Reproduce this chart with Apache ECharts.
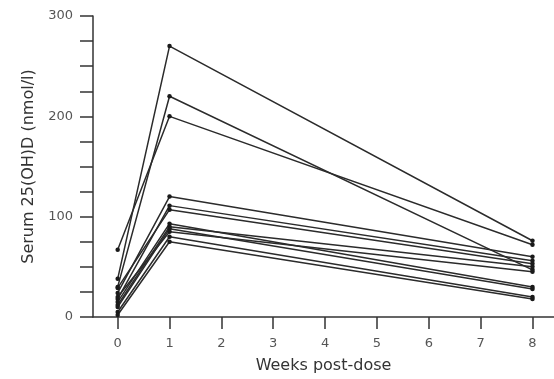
<!DOCTYPE html>
<html><head><meta charset="utf-8">
<script src="https://cdn.jsdelivr.net/npm/echarts@6/dist/echarts.min.js"></script>
<style>html,body{margin:0;padding:0;background:#fff}#c{width:554px;height:379px}</style>
</head><body><div id="c"></div>
<script>
var weeks = [0, 1, 8];
var weekTicks = [0, 1, 2, 3, 4, 5, 6, 7, 8];
var yTickLabels = [0, 100, 200, 300];
var week0 = [38, 30, 67, 24, 18, 29, 15, 12, 10, 20, 5, 2];
var week1 = [270, 220, 200, 120, 111, 107, 93, 90, 88, 85, 80, 75];
var week8 = [76, 47, 72, 60, 56, 53, 30, 50, 28, 45, 20, 18];

var series = week0.map(function (v, i) {
  return {
    type: 'line',
    data: [[weeks[0], week0[i]], [weeks[1], week1[i]], [weeks[2], week8[i]]],
    symbol: 'circle', symbolSize: 4.5,
    lineStyle: { color: '#2b2b2b', width: 1.5 },
    itemStyle: { color: '#1a1a1a' },
    animation: false
  };
});

var font = 'DejaVu Sans';
var chart = echarts.init(document.getElementById('c'));
chart.setOption({
  animation: false,
  grid: { left: 93, right: 0, top: 16, bottom: 56 },
  xAxis: {
    type: 'value', min: -0.476, max: 8.415,
    name: 'Weeks post-dose', nameLocation: 'middle', nameGap: 41,
    nameTextStyle: { fontFamily: font, fontSize: 16, color: '#333' },
    axisLine: { onZero: false, lineStyle: { color: '#333', width: 1.5 } },
    axisTick: { show: true, length: 12, customValues: weekTicks, lineStyle: { color: '#333', width: 1.5 } },
    axisLabel: { customValues: weekTicks, margin: 20, fontFamily: font, fontSize: 13, color: '#555' },
    splitLine: { show: false }
  },
  yAxis: {
    type: 'value', min: 0, max: 300, interval: 25,
    name: 'Serum 25(OH)D (nmol/l)', nameLocation: 'middle', nameGap: 52,
    nameTextStyle: { fontFamily: font, fontSize: 16, color: '#333' },
    axisLine: { show: true, onZero: false, lineStyle: { color: '#333', width: 1.5 } },
    axisTick: { show: true, length: 13, lineStyle: { color: '#333', width: 1.5 } },
    axisLabel: {
      margin: 20, fontFamily: font, fontSize: 13, color: '#555',
      formatter: function (v) { return yTickLabels.indexOf(v) >= 0 ? String(v) : ''; }
    },
    splitLine: { show: false }
  },
  series: series
});
</script></body></html>
